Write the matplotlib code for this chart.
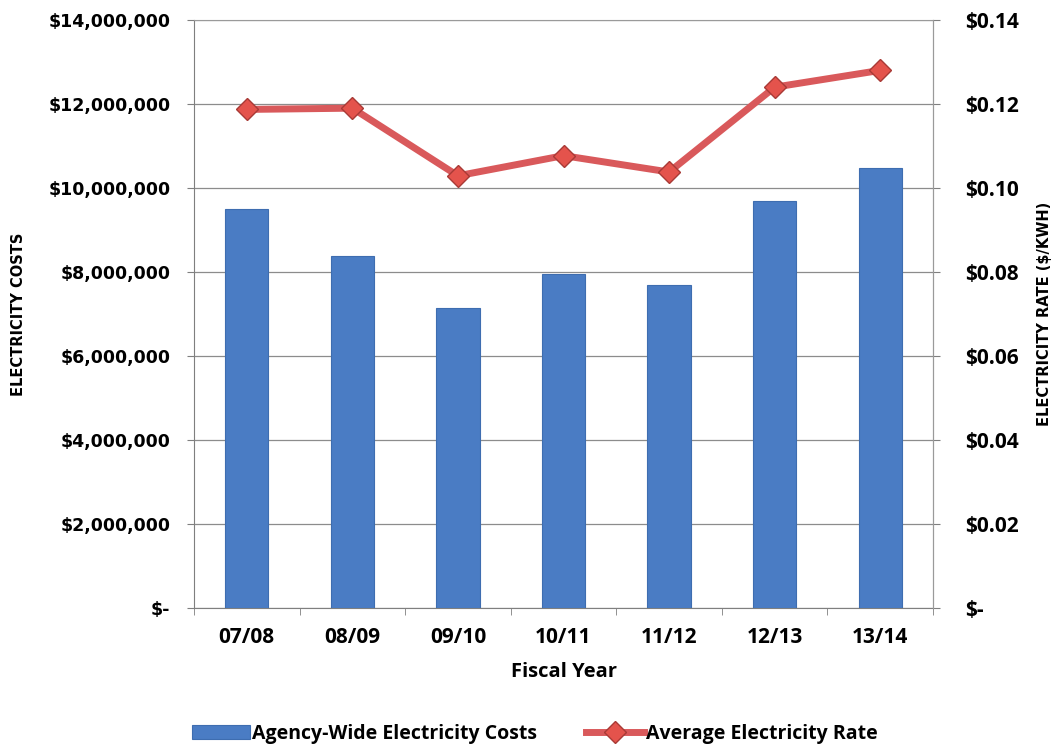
import matplotlib
matplotlib.use("Agg")
import matplotlib.pyplot as plt
from matplotlib.ticker import FuncFormatter, MultipleLocator
import numpy as np

years = ["07/08", "08/09", "09/10", "10/11", "11/12", "12/13", "13/14"]
costs = [9.50e6, 8.39e6, 7.15e6, 7.94e6, 7.70e6, 9.69e6, 10.48e6]
rates = [0.1187, 0.1190, 0.1029, 0.1077, 0.1038, 0.1240, 0.1280]

LBL = "Open Sans"
AXT = "DejaVu Sans"
fig = plt.figure(figsize=(10.55, 7.48), dpi=100)
ax = fig.add_axes([0.1839, 0.1872, 0.7005, 0.7861])
x = np.arange(len(years))
bars = ax.bar(x, costs, width=0.41, color="#4a7cc4", edgecolor="#3e6db0", linewidth=0.8,
              label="Agency-Wide Electricity Costs", zorder=3)
ax.set_ylim(0, 14e6)
ax.set_xlim(-0.5, len(years) - 0.5)
ax.yaxis.set_major_locator(MultipleLocator(2e6))

def left_fmt(v, pos):
    if v == 0:
        return "$-"
    return "${:,.0f}".format(v)

ax.yaxis.set_major_formatter(FuncFormatter(left_fmt))
ax.grid(axis="y", color="#8c8c8c", linewidth=0.9, zorder=0)
ax.set_axisbelow(True)
ax.spines["top"].set_color("#9a9a9a")
ax.spines["left"].set_color("#7f7f7f")
ax.spines["bottom"].set_color("#7f7f7f")
ax.spines["right"].set_color("#9a9a9a")
ax.set_xticks(x)
ax.set_xticklabels(years, fontsize=15, fontweight="bold", family=LBL)
ax.set_xticks(np.arange(-0.5, len(years)), minor=True)
ax.tick_params(axis="x", which="major", length=0, pad=14)
ax.tick_params(axis="x", which="minor", length=5, color="#7f7f7f")
ax.tick_params(axis="y", length=5, color="#7f7f7f", pad=12)
for lab in ax.get_yticklabels():
    lab.set_fontsize(12.5)
    lab.set_fontweight("bold")
    lab.set_family("DejaVu Sans")
ax.set_xlabel("Fiscal Year", fontsize=14.5, fontweight="bold", family=LBL, labelpad=10)

ax2 = ax.twinx()
line, = ax2.plot(x, rates, color="#d9595b", linewidth=5, marker="D", markersize=11,
                 markerfacecolor="#e4534c", markeredgecolor="#a83a36", markeredgewidth=1.0,
                 label="Average Electricity Rate", zorder=4)
ax2.set_ylim(0, 0.14)
ax2.yaxis.set_major_locator(MultipleLocator(0.02))

def right_fmt(v, pos):
    if abs(v) < 1e-9:
        return "$-"
    return "${:.2f}".format(v)

ax2.yaxis.set_major_formatter(FuncFormatter(right_fmt))
ax2.tick_params(axis="y", length=5, color="#7f7f7f", pad=18)
for lab in ax2.get_yticklabels():
    lab.set_fontsize(15)
    lab.set_fontweight("bold")
    lab.set_family(LBL)
for s in ["top", "left", "bottom"]:
    ax2.spines[s].set_visible(False)
ax2.spines["right"].set_color("#9a9a9a")

ymid = 0.1872 + 0.7861 / 2
fig.text(0.018, ymid, "ELECTRICITY COSTS", rotation=90, ha="center", va="center",
         fontsize=10.5, fontweight="bold", family=AXT)
fig.text(0.9905, ymid, "ELECTRICITY RATE ($/KWH)", rotation=90, ha="center", va="center",
         fontsize=10.5, fontweight="bold", family=AXT)

handles = [bars, line]
leg = fig.legend(handles, [h.get_label() for h in handles], loc="lower center",
                 bbox_to_anchor=(0.507, -0.018), ncol=2, frameon=False,
                 prop={"family": LBL, "weight": "bold", "size": 14},
                 handlelength=3, handletextpad=0.1, columnspacing=2.5)
fig.savefig("out.png", dpi=100)
